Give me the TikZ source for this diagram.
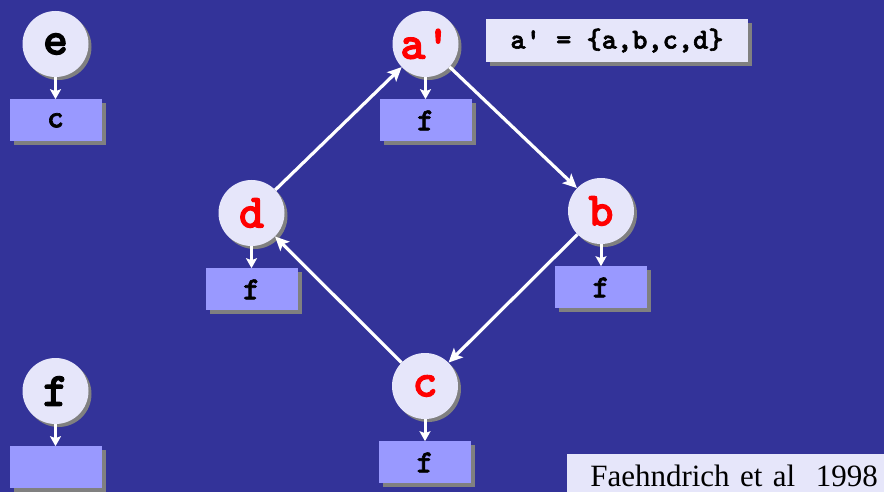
\documentclass[tikz,border=0pt]{standalone}
\usepackage{fontspec}
\setmainfont{Liberation Serif}
\newfontfamily\courbold[FakeBold=2]{lmmonolt10-bold.otf}
\usepackage{tikz}
\usetikzlibrary{positioning, arrows.meta, shadows}
\definecolor{night}{HTML}{333399}
\definecolor{lav}{HTML}{E6E6FA}
\definecolor{peri}{HTML}{9999FF}
\definecolor{shade}{HTML}{808080}
\definecolor{alarm}{HTML}{FF0000}

\begin{document}
\begin{tikzpicture}[
  x=1pt, y=-1pt,
  node distance=22pt,
  var/.style={circle, fill=lav, minimum size=66pt, inner sep=0pt,
              font=\courbold\fontsize{48}{48}\selectfont,
              drop shadow={shadow xshift=3pt, shadow yshift=-3pt, fill=shade, opacity=1}},
  redvar/.style={var, text=alarm},
  ptbox/.style={rectangle, fill=peri, minimum width=92pt, minimum height=42pt, inner sep=0pt,
              font=\courbold\fontsize{32}{32}\selectfont,
              drop shadow={shadow xshift=4pt, shadow yshift=-4pt, fill=shade, opacity=1}},
  setlbl/.style={rectangle, fill=lav, minimum width=262pt, minimum height=43pt, inner sep=0pt,
              font=\courbold\fontsize{29}{29}\selectfont,
              drop shadow={shadow xshift=4pt, shadow yshift=-4pt, fill=shade, opacity=1}},
  cite/.style={rectangle, fill=lav, anchor=south east, minimum width=317pt,
              text width=305pt, align=right, inner xsep=6pt, inner ysep=5pt,
              text height=28pt, text depth=0pt, font=\fontsize{31}{31}\selectfont},
  arr/.style={-{Stealth[length=14pt, width=13pt, inset=3pt]}, white, line width=3.2pt},
  darr/.style={-{Stealth[length=10pt, width=11pt, inset=2pt]}, white, line width=3pt},
]
\fill[night] (0,0) rectangle (884,492);
\useasboundingbox (0,0) rectangle (884,492);

%% points-to nodes
\node[var]    (e)  at (55.5,44)  {e};
\node[var]    (f)  at (55.5,391) {f};
\node[redvar] (ap) at (425.5,44) {a'};
\node[redvar] (d)  at (251.5,213) {d};
\node[redvar] (b)  at (601,211)  {b};
\node[redvar] (c)  at (425,386)  {c};

%% pointee boxes
\node[ptbox, below=of e]  (ebox)  {c};
\node[ptbox, below=of f]  (fbox)  {};
\node[ptbox, below=of ap] (apbox) {f};
\node[ptbox, below=of d]  (dbox)  {f};
\node[ptbox, below=of b]  (bbox)  {f};
\node[ptbox, below=of c]  (cbox)  {f};

%% cycle
\draw[arr] (d)  -- (ap);
\draw[arr] (ap) -- (b);
\draw[arr] (b)  -- (c);
\draw[arr] (c)  -- (d);

%% points-to arrows
\draw[darr] (e)  -- (ebox);
\draw[darr] (f)  -- (fbox);
\draw[darr] (ap) -- (apbox);
\draw[darr] (d)  -- (dbox);
\draw[darr] (b)  -- (bbox);
\draw[darr] (c)  -- (cbox);

%% labels
\node[setlbl] (setdef) at (617,40.5) {a' = \{a,b,c,d\}};
\node[cite] (src) at (884,492) {Faehndrich et al\ \ 1998};

\end{tikzpicture}
\end{document}
